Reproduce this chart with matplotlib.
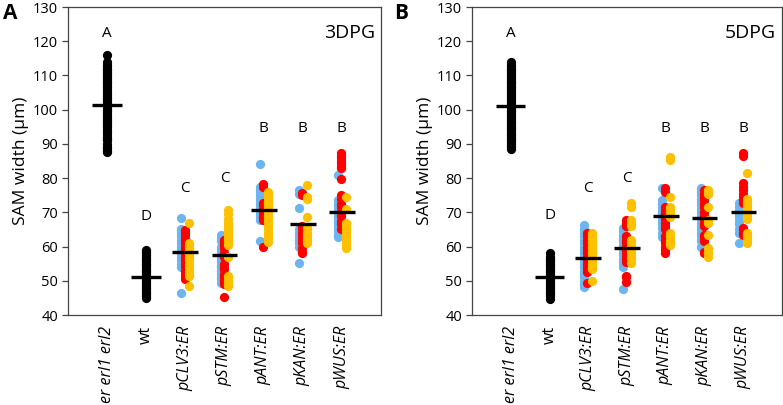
import matplotlib
matplotlib.use("Agg")
import matplotlib.pyplot as plt

plt.rcParams['font.family'] = ['Open Sans', 'DejaVu Sans']

categories = ["er erl1 erl2", "wt", "pCLV3:ER", "pSTM:ER", "pANT:ER", "pKAN:ER", "pWUS:ER"]
italic = [True, False, True, True, True, True, True]

# ---------- Panel A: 3DPG ----------
a_black = {
    "er erl1 erl2": [87.5, 88, 88.5, 89, 90, 91, 91.5, 92, 93, 93.5, 94, 95, 95.5, 96, 96.5,
                     97, 97.5, 98, 98.5, 99, 99.5, 100, 100.5, 101, 101.5, 102, 102.5, 103,
                     103.5, 104, 104.5, 105, 105.5, 106, 106.5, 107, 107.5, 108, 108.5, 109,
                     109.5, 110, 110.5, 111, 111.5, 112, 112.5, 113, 114, 116],
    "wt": [45, 45.5, 46, 46.5, 47, 47.5, 48, 48.5, 49, 49.5, 50, 50.5, 51, 51.5, 52, 52.5,
           53, 53.5, 54, 54.5, 55, 55.5, 56, 56.5, 57, 57.5, 58, 58.5, 59],
}
a_blue = {
    "pCLV3:ER": [68.4, 65, 64, 63, 62, 61, 60, 59, 58, 57, 56, 55, 54, 46.4],
    "pSTM:ER": [63.4, 62.5, 61.5, 60, 59, 58.5, 57.5, 57, 56, 55.5, 54.5, 54, 53, 52, 51,
                50.5, 49.4],
    "pANT:ER": [84.1, 77.4, 76.5, 76, 75, 74.5, 73.5, 73, 72, 71, 70, 69.5, 68.5, 67.8, 61.6],
    "pKAN:ER": [76.5, 75.5, 71.3, 65, 64, 63.5, 62.5, 62, 61, 60, 55.2],
    "pWUS:ER": [81, 73.6, 72.5, 72, 71, 70, 69, 68.5, 67.5, 66.5, 65.5, 64.5, 63.5, 62.8],
}
a_red = {
    "pCLV3:ER": [64.8, 64, 63.5, 62.5, 62, 61, 60, 59, 58, 57, 56, 55, 54, 53, 52, 51,
                 50.5],
    "pSTM:ER": [62, 61, 60.5, 59.5, 58, 57, 55, 54, 53.5, 52, 51, 50, 49, 45.3],
    "pANT:ER": [78.3, 77.5, 72.6, 72, 71, 70, 69, 68.5, 67.8, 60],
    "pKAN:ER": [75.7, 75, 66, 65, 64, 63, 62, 61, 59.5, 58.5, 58],
    "pWUS:ER": [87.3, 86.5, 86, 85, 84.5, 83.5, 83, 79.8, 75, 74, 72.5, 71.5, 70, 69,
                67.5, 66.5, 65],
}
a_orange = {
    "pCLV3:ER": [66.9, 61, 60.5, 60, 59.5, 59, 58.5, 58, 57.5, 57, 56.5, 56, 55, 54, 53,
                 52, 51.5, 48.5],
    "pSTM:ER": [70.7, 69.5, 68, 67, 66.5, 65.5, 65, 64, 63.5, 62.5, 62, 61, 60.5, 57, 51.5,
                51, 50, 49, 48.5],
    "pANT:ER": [76, 75.5, 74.5, 74, 73, 72, 71.5, 70.5, 70, 69, 68.5, 67.5, 67, 66, 65,
                64, 63.5, 62.5, 61.3],
    "pKAN:ER": [78, 74.5, 74, 68.7, 65.5, 65, 64, 63.5, 62.5, 62, 61],
    "pWUS:ER": [74.5, 71, 67, 66.5, 66, 65.5, 64.5, 64, 63, 62.5, 61.5, 61, 60.5, 59.5],
}
a_means = [101.3, 51.0, 58.4, 57.5, 70.6, 66.6, 70.1]
a_letters = ["A", "D", "C", "C", "B", "B", "B"]
a_letter_y = [122.4, 68.7, 77.0, 80.0, 94.6, 94.6, 94.6]

# ---------- Panel B: 5DPG ----------
b_black = {
    "er erl1 erl2": [88.5, 89, 89.5, 90, 90.5, 91, 91.5, 92, 92.5, 93, 93.5, 94, 94.5, 95,
                     95.5, 96, 96.5, 97, 97.5, 98, 98.5, 99, 99.5, 100, 100.5, 101, 101.5,
                     102, 102.5, 103, 103.5, 104, 104.5, 105, 105.5, 106, 106.5, 107, 107.5,
                     108, 108.5, 109, 109.5, 110, 110.5, 111, 111.5, 112, 112.5, 113, 114],
    "wt": [44.8, 45.5, 46, 46.5, 47, 47.5, 48, 48.5, 49, 49.5, 50, 50.5, 51, 51.5, 52,
           52.5, 53, 53.5, 54, 54.5, 55, 55.5, 56, 56.5, 57, 58],
}
b_blue = {
    "pCLV3:ER": [66.3, 65, 64, 63, 62, 61, 60, 59, 58, 57, 56, 55, 54, 53, 52, 51, 50, 49,
                 48.2],
    "pSTM:ER": [65.4, 64.5, 63.5, 62.5, 61.5, 60.5, 59.5, 58.5, 57.5, 56.5, 55.5, 54.5, 54,
                47.6],
    "pANT:ER": [77, 73.6, 72.5, 71.5, 70.5, 69.5, 68.5, 67.5, 66.5, 65.5, 64, 62.8],
    "pKAN:ER": [77, 76, 75, 74, 73, 72, 71, 70, 69, 68, 67, 66, 65, 64, 63, 62, 61.5, 60],
    "pWUS:ER": [72.7, 71.5, 70.5, 69.5, 68.5, 67.5, 66.5, 65, 64, 61],
}
b_red = {
    "pCLV3:ER": [64, 63, 62, 61, 60, 59, 58, 57, 56, 55, 54, 53.5, 52.5, 49.4],
    "pSTM:ER": [67.8, 67, 66, 63, 62, 61, 60, 59, 58, 57, 56.5, 55.5, 51.5, 51, 49.5],
    "pANT:ER": [77, 76, 71.6, 70.5, 69.5, 68, 67, 66, 65, 63, 62, 61, 60, 59, 58],
    "pKAN:ER": [76.5, 75.5, 74.5, 73.5, 72.5, 71.5, 70, 69, 68, 67, 66, 63.5, 62.5, 61.5,
                58.5, 58],
    "pWUS:ER": [87.4, 86.5, 78.6, 77.5, 76.5, 75.5, 74.5, 73.5, 72.7, 65.5, 65, 64,
                63.5],
}
b_orange = {
    "pCLV3:ER": [64, 63, 62.5, 61.5, 61, 60, 59.5, 58.5, 58, 57, 56.5, 55.5, 55, 54, 53.5,
                 50],
    "pSTM:ER": [72.7, 71.5, 67.8, 66.5, 66, 62, 61, 60, 59, 58, 57, 56.5, 55.2],
    "pANT:ER": [86.2, 85.3, 74.5, 71.6, 71, 70, 69.5, 68.5, 64, 63, 62, 61, 60.5],
    "pKAN:ER": [76.5, 76, 75.5, 71.6, 67.8, 67, 63.4, 59.5, 58.5, 58, 57],
    "pWUS:ER": [81.5, 74, 73, 72.5, 71.5, 71, 70, 69.5, 68.5, 68, 64, 63, 62.5, 61.5, 61],
}
b_means = [101.0, 51.0, 56.7, 59.6, 69.0, 68.4, 70.1]
b_letters = ["A", "D", "C", "C", "B", "B", "B"]
b_letter_y = [122.4, 69.2, 77.1, 80.0, 94.6, 94.6, 94.6]

BLUE = "#6db5f0"
RED = "#ff0000"
ORANGE = "#ffc000"
MS = 44


def draw(ax, black, blue, red, orange, means, letters, letter_y, title):
    x = {c: i + 1 for i, c in enumerate(categories)}
    for c, vals in black.items():
        ax.scatter([x[c]] * len(vals), vals, s=MS, color="black", lw=0, zorder=3)
    for c, vals in blue.items():
        ax.scatter([x[c] - 0.1] * len(vals), vals, s=MS, color=BLUE, lw=0, zorder=3)
    for c, vals in red.items():
        ax.scatter([x[c] - 0.02] * len(vals), vals, s=MS, color=RED, lw=0, zorder=4)
    for c, vals in orange.items():
        ax.scatter([x[c] + 0.1] * len(vals), vals, s=MS, color=ORANGE, lw=0, zorder=5)
    for i, m in enumerate(means):
        w = 0.38 if i < 2 else 0.33
        ax.plot([i + 1 - w, i + 1 + w], [m, m], color="black", lw=2.4, zorder=6,
                solid_capstyle="butt")
    for i, (l, y) in enumerate(zip(letters, letter_y)):
        ax.text(i + 1, y, l, ha="center", va="center", fontsize=11)
    ax.set_xlim(0, 8)
    ax.set_ylim(40, 130)
    ax.set_yticks(range(40, 131, 10))
    ax.set_xticks(range(1, 8))
    ax.set_xticklabels(categories, rotation=90, fontsize=11.5)
    for lbl, it in zip(ax.get_xticklabels(), italic):
        if it:
            lbl.set_style("italic")
    ax.tick_params(axis="x", length=0, pad=8)
    ax.tick_params(axis="y", labelsize=10.5, length=4, width=0.9, color="#444444", pad=3)
    for s in ax.spines.values():
        s.set_color("#444444")
        s.set_linewidth(0.9)
    ax.set_ylabel("SAM width (µm)", fontsize=12.5, labelpad=3)
    ax.text(0.98, 0.915, title, transform=ax.transAxes, ha="right", va="center",
            fontsize=14)


fig = plt.figure(figsize=(7.83, 4.05), dpi=100)
axA = fig.add_axes([0.0868, 0.2222, 0.3998, 0.7605])
axB = fig.add_axes([0.6028, 0.2222, 0.3960, 0.7605])
draw(axA, a_black, a_blue, a_red, a_orange, a_means, a_letters, a_letter_y, "3DPG")
draw(axB, b_black, b_blue, b_red, b_orange, b_means, b_letters, b_letter_y, "5DPG")
fig.text(0.004, 0.993, "A", fontsize=15, fontweight="bold", ha="left", va="top")
fig.text(0.503, 0.993, "B", fontsize=15, fontweight="bold", ha="left", va="top")
fig.savefig("out.png", dpi=100)
